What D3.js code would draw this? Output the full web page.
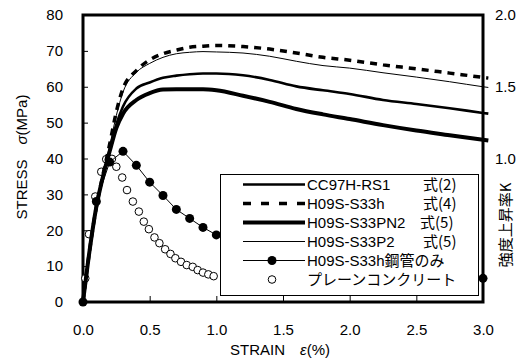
<!DOCTYPE html>
<html>
<head>
<meta charset="utf-8">
<script src="https://cdn.jsdelivr.net/npm/d3@7"></script>
<style>
  body { margin: 0; background: #fff; }
  svg { display: block; font-family: "Liberation Sans", Arial, sans-serif; }
</style>
</head>
<body>
<div id="chart"></div>
<script>
// strain (%) sample points for the model curves
const strain = [0, 0.05, 0.1, 0.15, 0.2, 0.25, 0.3, 0.4, 0.5, 0.6, 0.7, 0.8, 0.9, 1.0, 1.2, 1.4, 1.6, 1.8, 2.0, 2.25, 2.5, 2.75, 3.0, 3.04];
const rs1  = [0, 14.5, 26.5, 35, 42, 49.5, 54.5, 59.5, 61.2, 62.5, 63.1, 63.5, 63.7, 63.7, 63.2, 61.9, 60.1, 59.0, 58.0, 56.3, 55.2, 54.0, 52.7, 52.5];
const s33h = [0, 14.5, 26.5, 35.5, 44, 53, 59.5, 64.5, 67.5, 69.2, 70.2, 71, 71.3, 71.5, 71.2, 70.5, 69.4, 68.2, 67.4, 66.1, 65, 63.8, 62.6, 62.4];
const pn2  = [0, 14.5, 26.5, 35, 42, 48.5, 52.5, 56.3, 58.2, 59.2, 59.3, 59.3, 59.3, 59.0, 57.5, 55.8, 53.8, 52.3, 51.0, 49.3, 47.8, 46.5, 45.2, 45.0];
const p2   = [0, 14.5, 26.5, 35.5, 43.5, 52, 58.5, 64, 66.5, 68.2, 69.2, 69.6, 69.8, 69.7, 69.4, 68.5, 67.1, 65.9, 65.2, 63.9, 62.7, 61.4, 60, 59.8];

// steel tube only (test points)
const steelStrain = [0, 0.1, 0.2, 0.3, 0.4, 0.5, 0.6, 0.7, 0.8, 0.9, 1.0, 1.1, 1.2, 1.3, 1.4, 1.5, 1.6, 1.7, 1.8, 1.9, 2.0, 2.1, 2.2, 2.3, 2.4, 2.5, 2.6, 2.7, 2.8, 2.9, 3.0];
const steelStress = [0, 28, 39, 42, 38.1, 33.4, 29.7, 25.8, 23.3, 20.8, 18.7, 17.2, 15.9, 14.8, 13.8, 12.9, 12.1, 11.4, 10.8, 10.2, 9.7, 9.3, 8.9, 8.5, 8.2, 7.9, 7.6, 7.3, 7.0, 6.8, 6.6];

// plain concrete (test points)
const plainStrain = [0.017, 0.045, 0.092, 0.137, 0.174, 0.217, 0.25, 0.294, 0.33, 0.374, 0.419, 0.456, 0.494, 0.536, 0.573, 0.616, 0.656, 0.693, 0.735, 0.778, 0.823, 0.86, 0.9, 0.94, 0.98];
const plainStress = [6.6, 18.9, 29.4, 36.3, 39.8, 39.9, 37.7, 34.7, 31.2, 28, 25.2, 22.4, 20.3, 18, 16.4, 14.7, 13.4, 12.2, 11.2, 10.3, 9.8, 8.9, 8.2, 7.7, 7.2];

const xTicks = [0, 0.5, 1.0, 1.5, 2.0, 2.5, 3.0];
const yTicks = [0, 10, 20, 30, 40, 50, 60, 70, 80];
const kTicks = [1.0, 1.5, 2.0];

const legendNames = ["CC97H-RS1", "H09S-S33h", "H09S-S33PN2", "H09S-S33P2", "H09S-S33h鋼管のみ", "プレーンコンクリート"];
const legendEq = ["式(2)", "式(4)", "式(5)", "式(5)", "", ""];

const width = 517, height = 358;
const margin = { top: 15, right: 34, bottom: 56, left: 83 };

const svg = d3.select('#chart').append('svg')
  .attr('width', width)
  .attr('height', height);

const x = d3.scaleLinear().domain([0, 3]).range([margin.left, width - margin.right]);
const y = d3.scaleLinear().domain([0, 80]).range([height - margin.bottom, margin.top]);
const yK = d3.scaleLinear().domain([0, 2]).range([height - margin.bottom, margin.top]);

// frame
svg.append('rect')
  .attr('x', margin.left).attr('y', margin.top)
  .attr('width', x(3) - x(0)).attr('height', y(0) - y(80))
  .attr('fill', 'none').attr('stroke', '#000').attr('stroke-width', 3);

// left axis: inner ticks
const yAxis = d3.axisLeft(y).tickValues(yTicks).tickSize(-5).tickPadding(20).tickFormat(d3.format('d'));
const gy = svg.append('g').attr('transform', `translate(${margin.left},0)`).call(yAxis);
gy.select('.domain').remove();
gy.selectAll('.tick line').attr('stroke-width', 1);
gy.selectAll('.tick text').attr('font-size', 15).attr('font-family', 'Liberation Sans, Arial, sans-serif').attr('fill', '#000');

// bottom axis: inner ticks
const xAxis = d3.axisBottom(x).tickValues(xTicks).tickSize(-6).tickPadding(22).tickFormat(d3.format('.1f'));
const gx = svg.append('g').attr('transform', `translate(0,${y(0)})`).call(xAxis);
gx.select('.domain').remove();
gx.selectAll('.tick line').attr('stroke-width', 1);
gx.selectAll('.tick text').attr('font-size', 15).attr('font-family', 'Liberation Sans, Arial, sans-serif').attr('fill', '#000');

// right axis (strength ratio K)
const kAxis = d3.axisRight(yK).tickValues(kTicks).tickSize(0).tickPadding(12).tickFormat(d3.format('.1f'));
const gk = svg.append('g').attr('transform', `translate(${x(3)},0)`).call(kAxis);
gk.select('.domain').remove();
gk.selectAll('.tick text').attr('font-size', 15).attr('font-family', 'Liberation Sans, Arial, sans-serif').attr('fill', '#000');

// titles
svg.append('text')
  .attr('transform', `translate(27,157) rotate(-90)`)
  .attr('text-anchor', 'middle')
  .attr('font-size', 15)
  .text('STRESS\u3000')
  .append('tspan').attr('font-style', 'italic').text('σ')
  .select(function() { return this.parentNode; })
  .append('tspan').text('(MPa)');

svg.append('text')
  .attr('x', 280).attr('y', 355)
  .attr('text-anchor', 'middle')
  .attr('font-size', 15)
  .text('STRAIN\u3000')
  .append('tspan').attr('font-style', 'italic').text('ε')
  .select(function() { return this.parentNode; })
  .append('tspan').text('(%)');

svg.append('text')
  .attr('transform', `translate(511,225) rotate(-90)`)
  .attr('text-anchor', 'middle')
  .attr('font-size', 15)
  .attr('font-family', '"Noto Sans CJK JP", sans-serif')
  .text('強度上昇率K');

// series
const pts = (xs, ys) => xs.map((d, i) => [d, ys[i]]);
const line = d3.line().x(d => x(d[0])).y(d => y(d[1])).curve(d3.curveMonotoneX);
const straight = d3.line().x(d => x(d[0])).y(d => y(d[1]));

const plot = svg.append('g');

plot.selectAll('circle.plain')
  .data(pts(plainStrain, plainStress))
  .enter().append('circle')
  .attr('class', 'plain')
  .attr('cx', d => x(d[0])).attr('cy', d => y(d[1])).attr('r', 3.8)
  .attr('fill', '#fff').attr('stroke', '#000').attr('stroke-width', 1);

const curves = [
  { data: p2, w: 1, dash: null },
  { data: rs1, w: 2.6, dash: null },
  { data: pn2, w: 4, dash: null },
  { data: s33h, w: 3.5, dash: '7,6' }
];
curves.forEach(c => {
  plot.append('path')
    .attr('d', line(pts(strain, c.data)))
    .attr('fill', 'none')
    .attr('stroke', '#000')
    .attr('stroke-width', c.w)
    .attr('stroke-dasharray', c.dash);
});

plot.append('path')
  .attr('d', straight(pts(steelStrain, steelStress)))
  .attr('fill', 'none').attr('stroke', '#000').attr('stroke-width', 1);
plot.selectAll('circle.steel')
  .data(pts(steelStrain, steelStress))
  .enter().append('circle')
  .attr('class', 'steel')
  .attr('cx', d => x(d[0])).attr('cy', d => y(d[1])).attr('r', 4.5)
  .attr('fill', '#000');

// legend
const lg = svg.append('g');
lg.append('rect')
  .attr('x', 220.5).attr('y', 174.5).attr('width', 258).attr('height', 121)
  .attr('fill', '#fff').attr('stroke', '#000').attr('stroke-width', 1);

const rowY = d3.range(6).map(i => 184.5 + i * 19);
const legendStyle = [
  { w: 2.6, dash: null }, { w: 3.5, dash: '8,10' }, { w: 4, dash: null },
  { w: 1, dash: null }, { w: 1, dash: null }, { w: 0, dash: null }
];
legendNames.forEach((name, i) => {
  const ry = rowY[i];
  if (legendStyle[i].w > 0) {
    lg.append('line')
      .attr('x1', 243).attr('x2', 305).attr('y1', ry).attr('y2', ry)
      .attr('stroke', '#000').attr('stroke-width', legendStyle[i].w)
      .attr('stroke-dasharray', legendStyle[i].dash);
  }
  if (i === 4) {
    lg.append('circle').attr('cx', 272).attr('cy', ry).attr('r', 4.5).attr('fill', '#000');
  }
  if (i === 5) {
    lg.append('circle').attr('cx', 272).attr('cy', ry).attr('r', 3.8)
      .attr('fill', '#fff').attr('stroke', '#000');
  }
  lg.append('text')
    .attr('x', 307).attr('y', ry + 5.5)
    .attr('font-size', 15)
    .attr('font-family', '"Liberation Sans", "Noto Sans CJK JP", sans-serif')
    .text(name);
  if (legendEq[i]) {
    lg.append('text')
      .attr('x', i === 2 ? 420 : 423).attr('y', ry + 5.5)
      .attr('font-size', 15)
      .attr('font-family', '"Noto Sans CJK JP", sans-serif')
      .text(legendEq[i]);
  }
});
</script>
</body>
</html>
